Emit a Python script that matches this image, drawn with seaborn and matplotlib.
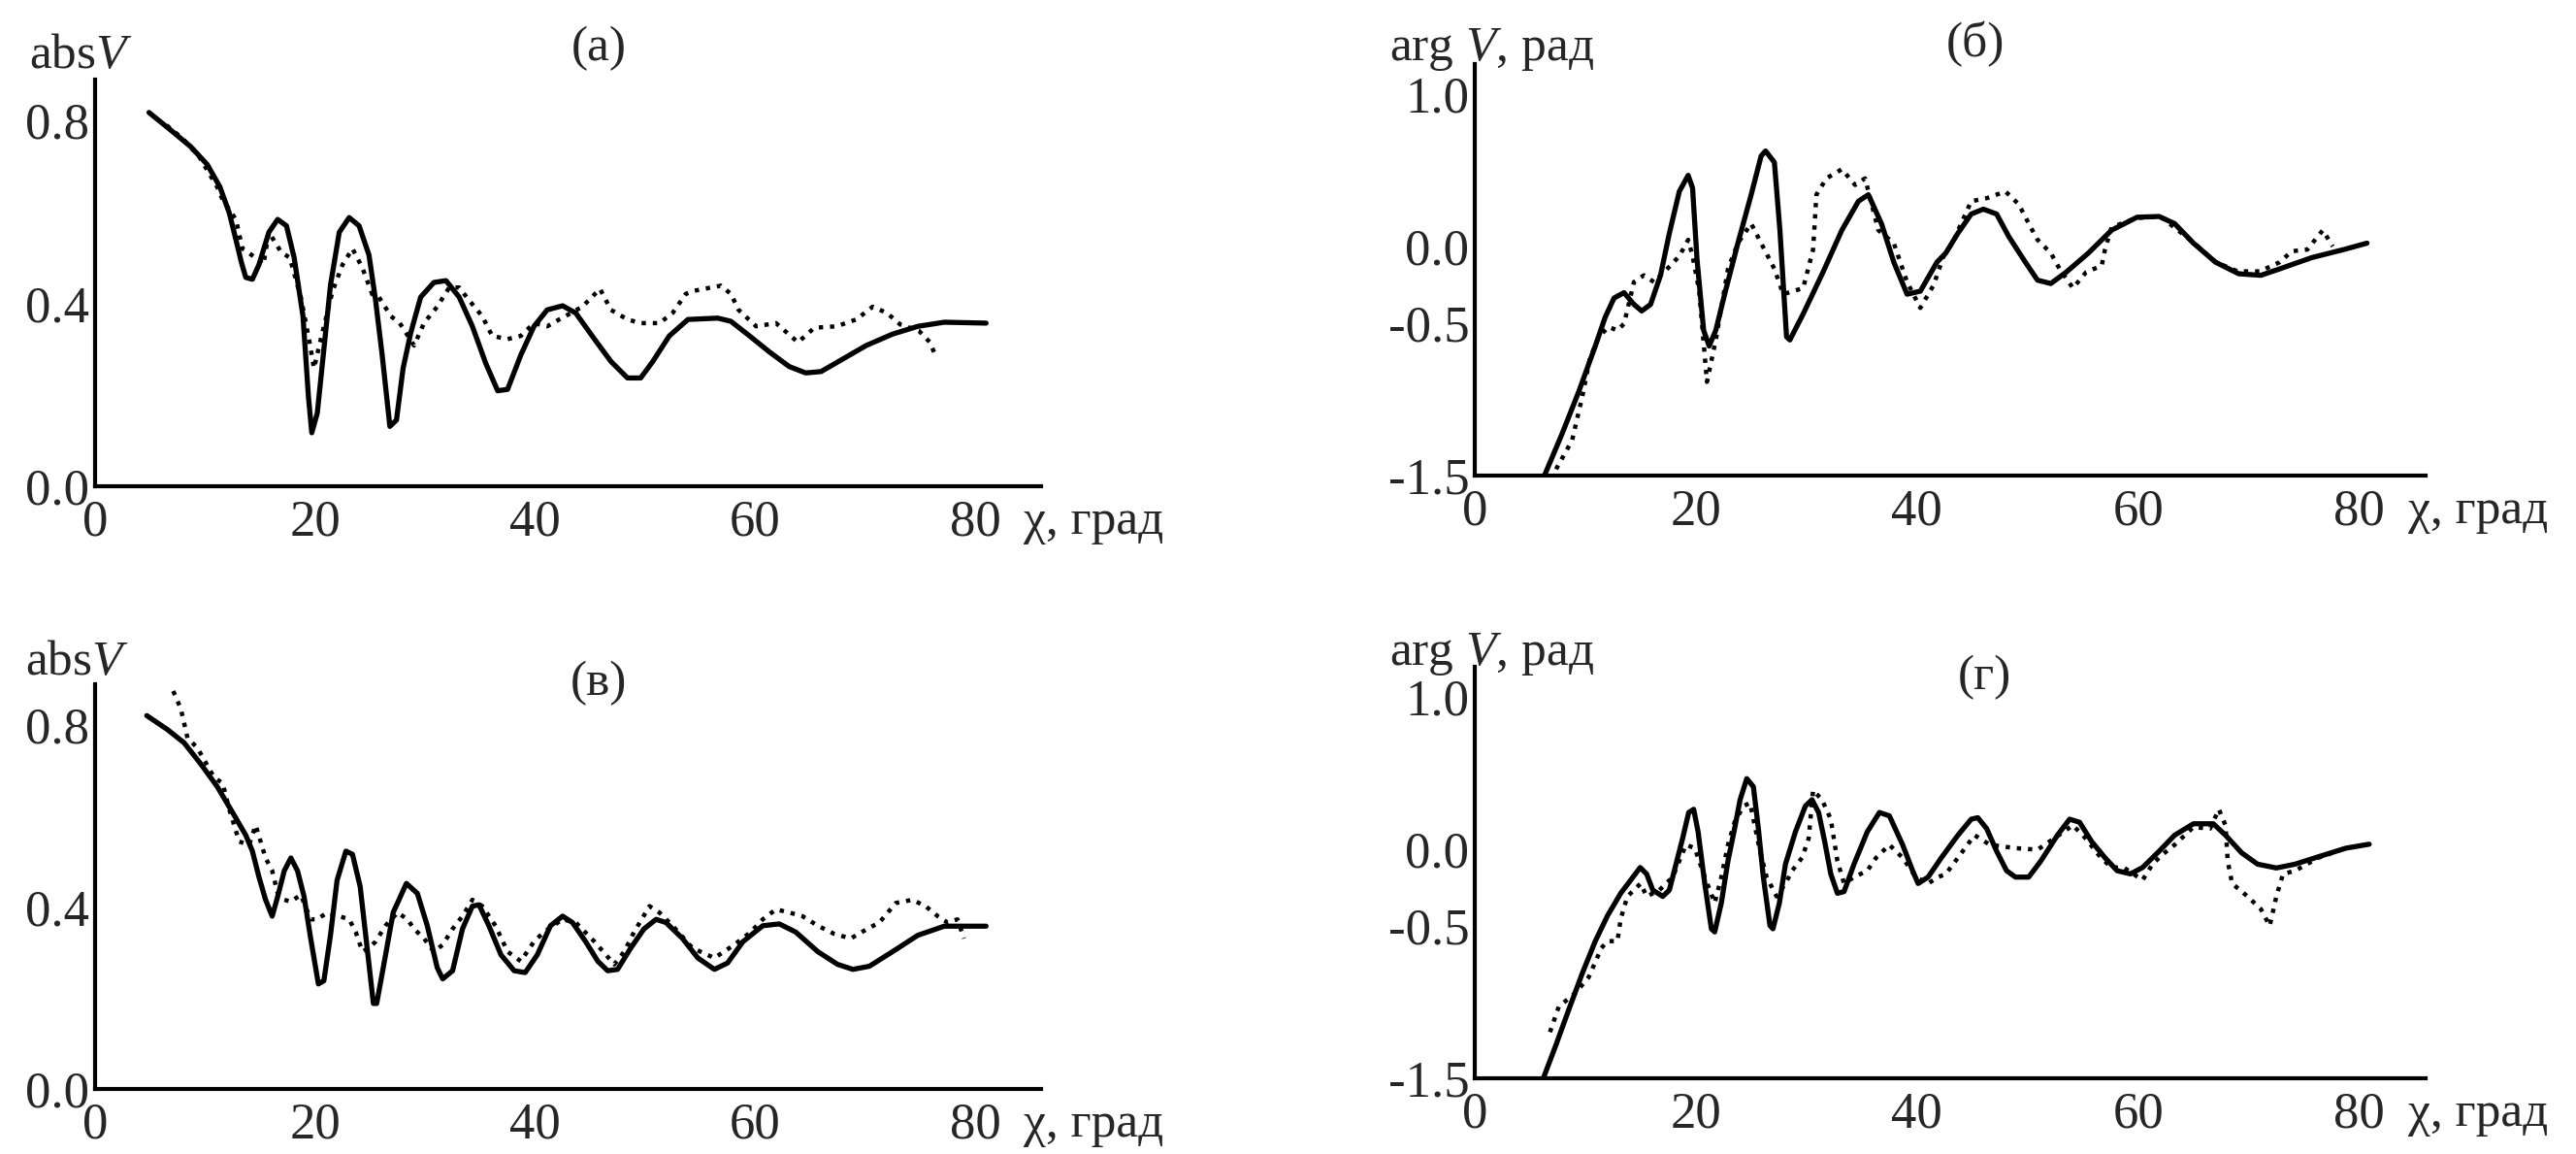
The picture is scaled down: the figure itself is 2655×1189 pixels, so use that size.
import pandas as pd
import seaborn as sns
from matplotlib import pyplot as plt

# values: (chi in degrees, value)
# (а) abs V
a_theory = [(4.9, 0.818), (6.9, 0.779), (8.7, 0.743), (10.2, 0.704), (11.35, 0.655), (12.2, 0.598),
            (12.8, 0.54), (13.3, 0.49), (13.7, 0.457), (14.3, 0.453), (14.9, 0.485), (15.8, 0.556),
            (16.6, 0.584), (17.4, 0.57), (18.1, 0.50), (18.9, 0.372), (19.4, 0.195), (19.7, 0.117),
            (20.2, 0.16), (20.8, 0.30), (21.4, 0.44), (22.2, 0.556), (23.1, 0.588), (24.0, 0.57),
            (24.9, 0.506), (25.5, 0.407), (26.1, 0.287), (26.8, 0.131), (27.4, 0.145), (28.0, 0.258),
            (28.7, 0.336), (29.6, 0.414), (30.8, 0.446), (31.9, 0.45), (33.1, 0.414), (34.3, 0.35),
            (35.5, 0.27), (36.6, 0.209), (37.5, 0.212), (38.7, 0.287), (39.9, 0.35), (41.1, 0.386),
            (42.5, 0.395), (43.7, 0.379), (45.4, 0.322), (46.9, 0.273), (48.4, 0.237), (49.6, 0.237),
            (50.7, 0.273), (52.2, 0.329), (53.9, 0.365), (56.6, 0.368), (57.8, 0.361), (59.5, 0.329),
            (61.3, 0.294), (63.1, 0.262), (64.6, 0.248), (66.0, 0.251), (67.8, 0.276), (70.1, 0.308),
            (72.5, 0.333), (74.8, 0.35), (77.2, 0.359), (81.0, 0.357)]
a_measured = [(6.5, 0.79), (8.0, 0.76), (9.5, 0.72), (11.1, 0.655), (11.6, 0.627), (12.8, 0.584),
              (13.4, 0.52), (14.6, 0.50), (15.3, 0.485), (15.8, 0.556), (16.9, 0.513), (17.7, 0.50),
              (18.7, 0.414), (19.5, 0.315), (19.9, 0.258), (20.6, 0.33), (21.6, 0.428), (22.5, 0.485),
              (23.4, 0.52), (24.3, 0.478), (25.2, 0.42), (25.8, 0.414), (26.9, 0.372), (27.7, 0.357),
              (29.0, 0.308), (29.9, 0.357), (31.1, 0.393), (32.2, 0.435), (33.1, 0.435), (34.0, 0.407),
              (35.2, 0.372), (36.1, 0.329), (37.5, 0.322), (38.7, 0.329), (39.9, 0.357), (41.1, 0.35),
              (42.2, 0.365), (44.3, 0.393), (45.9, 0.432), (46.9, 0.386), (48.4, 0.365), (49.6, 0.357),
              (51.3, 0.357), (52.5, 0.379), (53.7, 0.421), (54.5, 0.428), (56.9, 0.439), (57.8, 0.421),
              (58.5, 0.386), (60.1, 0.35), (61.9, 0.357), (63.9, 0.315), (65.4, 0.347), (67.4, 0.35),
              (69.2, 0.365), (70.7, 0.393), (72.0, 0.379), (73.2, 0.354), (74.9, 0.34), (75.9, 0.315),
              (76.5, 0.28)]

# (б) arg V
b_theory = [(6.3, -1.5), (7.9, -1.225), (9.4, -0.95), (10.9, -0.65), (11.8, -0.46), (12.6, -0.335),
            (13.5, -0.30), (14.4, -0.377), (15.1, -0.42), (15.9, -0.377), (16.8, -0.186), (17.6, 0.09),
            (18.5, 0.364), (19.3, 0.47), (19.7, 0.386), (20.1, -0.08), (20.7, -0.547), (21.2, -0.65),
            (21.8, -0.547), (22.6, -0.31), (23.8, 0.025), (25.0, 0.343), (25.9, 0.597), (26.3, 0.63),
            (27.1, 0.555), (27.6, 0.11), (28.2, -0.59), (28.5, -0.61), (29.7, -0.44), (31.5, -0.165),
            (33.2, 0.11), (34.7, 0.30), (35.6, 0.343), (36.8, 0.15), (37.9, -0.10), (39.1, -0.31),
            (40.3, -0.29), (41.8, -0.10), (42.6, -0.04), (43.7, 0.09), (44.9, 0.216), (46.0, 0.248),
            (47.2, 0.216), (48.3, 0.068), (49.8, -0.10), (50.9, -0.218), (52.1, -0.24), (53.5, -0.165),
            (55.5, -0.04), (57.6, 0.11), (59.9, 0.195), (61.9, 0.20), (63.3, 0.153), (65.0, 0.025),
            (67.0, -0.10), (69.1, -0.176), (71.1, -0.186), (72.8, -0.144), (75.7, -0.07), (78.6, -0.017),
            (80.7, 0.025)]
b_measured = [(7.35, -1.458), (8.8, -1.27), (9.7, -0.99), (10.4, -0.737), (11.2, -0.59), (12.1, -0.525),
              (12.9, -0.547), (13.5, -0.504), (14.4, -0.23), (15.3, -0.186), (16.2, -0.23), (17.4, -0.144),
              (18.5, -0.06), (19.3, 0.047), (19.7, -0.06), (20.3, -0.29), (21.0, -0.885), (21.8, -0.61),
              (22.9, -0.144), (23.8, 0.025), (25.0, 0.153), (25.9, 0.025), (27.1, -0.144), (27.9, -0.31),
              (29.7, -0.27), (30.6, -0.017), (30.9, 0.343), (31.8, 0.45), (33.2, 0.51), (34.4, 0.407),
              (35.3, 0.45), (36.5, 0.11), (37.9, 0.025), (39.1, -0.23), (40.3, -0.40), (41.5, -0.25),
              (42.4, -0.06), (43.2, 0.025), (44.9, 0.30), (46.3, 0.32), (48.0, 0.364), (49.2, 0.28),
              (50.2, 0.14), (50.9, 0.047), (52.1, -0.04), (52.9, -0.144), (54.1, -0.27), (55.3, -0.165),
              (56.7, -0.123), (57.0, -0.017), (57.6, 0.13), (59.9, 0.19), (62.0, 0.2), (65.0, 0.03),
              (67.0, -0.1), (69.0, -0.16), (71.0, -0.16), (72.8, -0.10), (73.9, -0.028), (75.3, -0.017),
              (76.7, 0.11), (77.6, 0.004)]

# (в) abs V
c_theory = [(4.7, 0.821), (6.6, 0.79), (8.1, 0.761), (9.6, 0.715), (11.1, 0.665), (12.5, 0.608),
            (13.7, 0.558), (14.3, 0.523), (14.9, 0.466), (15.5, 0.416), (16.1, 0.38), (16.6, 0.423),
            (17.2, 0.48), (17.8, 0.508), (18.4, 0.48), (19.0, 0.423), (19.6, 0.331), (20.3, 0.231),
            (20.8, 0.238), (21.4, 0.338), (22.0, 0.459), (22.8, 0.523), (23.4, 0.516), (24.1, 0.445),
            (24.7, 0.317), (25.3, 0.188), (25.6, 0.188), (26.2, 0.267), (27.1, 0.388), (28.3, 0.452),
            (29.3, 0.43), (30.2, 0.359), (31.1, 0.267), (31.6, 0.242), (32.5, 0.26), (33.4, 0.352),
            (34.3, 0.402), (34.9, 0.405), (35.8, 0.359), (36.9, 0.295), (38.1, 0.26), (39.1, 0.256),
            (40.2, 0.295), (41.4, 0.359), (42.5, 0.38), (43.4, 0.366), (44.6, 0.324), (45.7, 0.281),
            (46.6, 0.26), (47.5, 0.263), (48.7, 0.31), (49.9, 0.352), (51.0, 0.373), (51.9, 0.366),
            (53.4, 0.331), (54.8, 0.288), (56.3, 0.263), (57.5, 0.277), (58.9, 0.324), (60.7, 0.359),
            (62.2, 0.363), (63.7, 0.345), (65.7, 0.302), (67.5, 0.274), (68.9, 0.263), (70.4, 0.27),
            (72.5, 0.302), (74.8, 0.338), (77.2, 0.358), (81.0, 0.358)]
c_measured = [(7.1, 0.875), (7.8, 0.836), (8.4, 0.772), (9.3, 0.75), (10.8, 0.686), (11.6, 0.672),
              (12.2, 0.615), (13.1, 0.544), (14.0, 0.537), (14.6, 0.58), (15.5, 0.508), (16.1, 0.48),
              (16.6, 0.43), (17.2, 0.416), (17.8, 0.412), (18.7, 0.427), (19.6, 0.373), (20.2, 0.373),
              (21.1, 0.388), (22.2, 0.38), (23.1, 0.373), (23.7, 0.345), (24.3, 0.302), (24.9, 0.31),
              (25.5, 0.324), (26.4, 0.359), (27.5, 0.388), (28.4, 0.373), (29.0, 0.352), (29.9, 0.331),
              (30.8, 0.302), (31.6, 0.317), (32.5, 0.352), (33.4, 0.38), (34.3, 0.416), (35.2, 0.402),
              (36.4, 0.359), (37.5, 0.302), (38.7, 0.281), (39.9, 0.324), (40.8, 0.345), (42.5, 0.373),
              (43.7, 0.366), (45.4, 0.324), (47.2, 0.274), (48.1, 0.302), (49.0, 0.345), (50.4, 0.402),
              (51.3, 0.388), (52.5, 0.359), (54.3, 0.31), (56.3, 0.288), (58.1, 0.317), (59.6, 0.345),
              (60.7, 0.373), (61.9, 0.395), (63.1, 0.388), (64.3, 0.38), (65.7, 0.359), (67.2, 0.341),
              (68.7, 0.331), (70.2, 0.352), (71.3, 0.366), (72.8, 0.409), (74.3, 0.416), (75.5, 0.402),
              (76.6, 0.38), (77.5, 0.366), (78.4, 0.373), (79.0, 0.331)]

# (г) arg V
d_theory = [(6.2, -1.5), (7.35, -1.28), (8.5, -1.05), (9.7, -0.816), (10.9, -0.60), (12.0, -0.434),
            (13.2, -0.286), (14.1, -0.20), (14.96, -0.117), (15.55, -0.16), (16.1, -0.265), (17.0, -0.307),
            (17.6, -0.265), (18.2, -0.095), (18.8, 0.074), (19.35, 0.244), (19.8, 0.265), (20.2, 0.117),
            (20.8, -0.222), (21.4, -0.519), (21.7, -0.54), (22.3, -0.35), (22.9, -0.074), (23.5, 0.138),
            (24.0, 0.328), (24.6, 0.466), (25.2, 0.413), (25.65, 0.138), (26.1, -0.18), (26.7, -0.498),
            (26.97, -0.519), (27.55, -0.35), (28.1, -0.095), (29.0, 0.117), (29.9, 0.286), (30.5, 0.328),
            (31.1, 0.244), (31.65, 0.053), (32.2, -0.159), (32.8, -0.286), (33.4, -0.275), (34.3, -0.095),
            (35.5, 0.117), (36.6, 0.244), (37.5, 0.222), (38.7, 0.032), (39.6, -0.138), (40.1, -0.222),
            (41.0, -0.18), (42.2, -0.053), (43.7, 0.095), (44.9, 0.20), (45.5, 0.21), (46.3, 0.138),
            (47.2, -0.01), (48.1, -0.138), (48.9, -0.18), (50.1, -0.18), (51.2, -0.074), (52.7, 0.095),
            (53.8, 0.20), (54.7, 0.18), (55.8, 0.053), (57.0, -0.053), (58.1, -0.138), (59.3, -0.159),
            (60.4, -0.117), (61.9, -0.01), (63.3, 0.095), (65.0, 0.17), (66.8, 0.17), (67.9, 0.095),
            (69.35, -0.02), (70.8, -0.095), (72.5, -0.12), (74.2, -0.095), (76.5, -0.042), (78.8, 0.01),
            (80.9, 0.036)]
d_measured = [(6.8, -1.197), (7.6, -1.03), (9.1, -0.94), (10.3, -0.837), (11.45, -0.646), (12.0, -0.60),
              (12.9, -0.60), (13.2, -0.455), (13.8, -0.307), (15.0, -0.222), (15.55, -0.307), (16.7, -0.265),
              (17.9, -0.18), (19.1, 0.032), (19.9, 0.01), (20.8, -0.18), (21.7, -0.35), (22.3, -0.18),
              (22.9, 0.032), (23.5, 0.18), (24.3, 0.286), (24.9, 0.307), (25.8, -0.01), (26.4, -0.18),
              (27.3, -0.307), (28.1, -0.222), (28.7, -0.138), (29.6, -0.053), (30.2, 0.074), (30.6, 0.39),
              (31.4, 0.328), (32.2, 0.20), (32.8, -0.074), (33.4, -0.222), (34.3, -0.18), (35.5, -0.138),
              (36.3, -0.053), (37.5, 0.032), (38.7, -0.053), (39.9, -0.18), (41.0, -0.222), (41.9, -0.18),
              (42.6, -0.16), (43.7, -0.053), (45.2, 0.095), (46.6, 0.032), (48.9, 0.01), (50.9, 0.0),
              (52.4, 0.074), (54.1, 0.16), (55.25, 0.074), (56.4, -0.032), (57.55, -0.117), (58.7, -0.117),
              (60.4, -0.20), (61.3, -0.095), (62.2, -0.032), (63.3, 0.032), (65.0, 0.148), (66.5, 0.138),
              (67.3, 0.265), (67.9, 0.16), (68.1, -0.074), (68.5, -0.222), (69.9, -0.307), (71.1, -0.39),
              (71.9, -0.50), (72.5, -0.307), (73.1, -0.16), (74.2, -0.138), (76.3, -0.053), (78.0, -0.01)]

x_ticks = [0, 20, 40, 60, 80]
abs_ticks = [0.0, 0.4, 0.8]
arg_ticks = [-1.5, -0.5, 0.0, 1.0]

W, H = 2655, 1189
FS = 38


def frac(x, y):
    return x / W, 1 - y / H


def draw_panel(fig, rect, theory, measured, ylim, yticks):
    ax = fig.add_axes(rect)
    df_t = pd.DataFrame(theory, columns=["chi", "v"])
    df_m = pd.DataFrame(measured, columns=["chi", "v"])
    sns.lineplot(data=df_m, x="chi", y="v", ax=ax, color="black", linewidth=3.2,
                 linestyle=(0, (1.0, 1.6)), sort=False, estimator=None)
    sns.lineplot(data=df_t, x="chi", y="v", ax=ax, color="black", linewidth=3.8,
                 sort=False, estimator=None)
    ax.set_xlim(0, 86)
    ax.set_ylim(*ylim)
    ax.set_xticks(x_ticks)
    ax.set_xticklabels([str(t) for t in x_ticks])
    ax.set_yticks(yticks)
    ax.set_yticklabels([f"{t:.1f}" for t in yticks])
    ax.set_xlabel("")
    ax.set_ylabel("")
    sns.despine(ax=ax)
    for side in ["left", "bottom"]:
        ax.spines[side].set_linewidth(3.0)
        ax.spines[side].set_color("black")
    ax.tick_params(axis="x", direction="in", length=10, width=2.5, pad=10, labelsize=FS)
    ax.tick_params(axis="y", direction="in", length=10, width=2.5, pad=4, labelsize=FS)
    ax.annotate("χ, град", xy=(84.4, 0), xycoords=ax.get_xaxis_transform(),
                xytext=(0, -10), textcoords="offset points", ha="left", va="top", fontsize=FS - 1)
    return ax


sns.set_theme(style="white")
plt.rcParams["font.family"] = ["Liberation Serif", "DejaVu Serif"]
plt.rcParams["mathtext.fontset"] = "custom"
plt.rcParams["mathtext.rm"] = "Liberation Serif"
plt.rcParams["mathtext.it"] = "Liberation Serif:italic"
plt.rcParams["axes.unicode_minus"] = False

fig = plt.figure(figsize=(W / 100, H / 100), dpi=100)

draw_panel(fig, [98 / W, 1 - 501 / H, 975 / W, 419 / H], a_theory, a_measured, (0, 0.89), abs_ticks)
draw_panel(fig, [1520 / W, 1 - 490 / H, 980 / W, 424 / H], b_theory, b_measured, (-1.5, 1.2), arg_ticks)
draw_panel(fig, [98 / W, 1 - 1122 / H, 975 / W, 417 / H], c_theory, c_measured, (0, 0.89), abs_ticks)
draw_panel(fig, [1520 / W, 1 - 1111 / H, 980 / W, 424 / H], d_theory, d_measured, (-1.5, 1.2), arg_ticks)

# axis captions and panel letters
LFS = 37
fig.text(*frac(30, 70), r"abs$V$", fontsize=LFS, ha="left", va="baseline")
fig.text(*frac(1432, 62), r"arg $V$, рад", fontsize=LFS, ha="left", va="baseline")
fig.text(*frac(26, 695), r"abs$V$", fontsize=LFS, ha="left", va="baseline")
fig.text(*frac(1432, 685), r"arg $V$, рад", fontsize=LFS, ha="left", va="baseline")
fig.text(*frac(617, 62), "(а)", fontsize=LFS, ha="center", va="baseline")
fig.text(*frac(2036, 58), "(б)", fontsize=LFS, ha="center", va="baseline")
fig.text(*frac(617, 716), "(в)", fontsize=LFS, ha="center", va="baseline")
fig.text(*frac(2045, 710), "(г)", fontsize=LFS, ha="center", va="baseline")

fig.savefig("out.png", dpi=100)
